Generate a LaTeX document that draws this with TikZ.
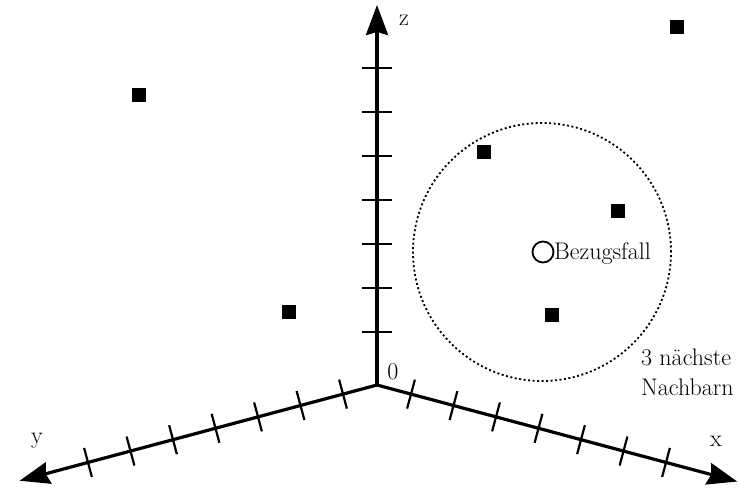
\documentclass[tikz,border=0pt]{standalone}
\usetikzlibrary{arrows.meta,calc}
\begin{document}
\begin{tikzpicture}[x=1pt,y=-1pt,
  axis/.style={line width=3.2pt,-{Stealth[length=30pt,width=22pt,inset=3pt]}},
  tickmark/.style={line width=2.2pt},
  sample/.style={fill=black,minimum size=14pt,inner sep=0pt,draw=none,rectangle},
  lbl/.style={font=\fontsize{24}{30}\selectfont,inner sep=0pt}]
\useasboundingbox (0,0) rectangle (738,489);
\coordinate (O) at (377,385);
\coordinate (Z) at (377,5);
\coordinate (X) at ($(O)+(15:373)$);
\coordinate (Y) at ($(O)+(165:370)$);
\draw[axis] (O) -- (Z);
\draw[axis] (O) -- (X);
\draw[axis] (O) -- (Y);
\foreach \k in {0,...,6}{
  \pgfmathsetmacro\r{35.2+44*\k}
  \pgfmathsetmacro\h{53+44*\k}
  \draw[tickmark] ($(O)+(-15,-\h)$) -- ($(O)+(15,-\h)$);
  \draw[tickmark] ($(O)+(15:\r)+(105:15)$) -- ($(O)+(15:\r)+(285:15)$);
  \draw[tickmark] ($(O)+(165:\r)+(75:15)$) -- ($(O)+(165:\r)+(255:15)$);
}
\node[lbl] (zl) at (404,20) {z};
\node[lbl] (ol) at (393,372) {0};
\node[lbl] (xl) at (716,441) {x};
\node[lbl] (yl) at (37,441) {y};
\node[circle,draw,dash pattern=on 2pt off 2.5pt,line width=1.8pt,minimum size=258pt,inner sep=0pt] (N) at (542,252) {};
\node[circle,draw,line width=1.8pt,minimum size=21pt,inner sep=0pt] (B) at (543,252) {};
\node[lbl,anchor=base west] (Bl) at ($(B.east)+(-0.5,7)$) {Bezugsfall};
\node[lbl,anchor=north west,align=left] (NN) at (641,349) {3 nächste\\Nachbarn};
\node[sample] (s1) at (139,95) {};
\node[sample] (s2) at (677,27) {};
\node[sample] (s3) at (484,152) {};
\node[sample] (s4) at (618,211) {};
\node[sample] (s5) at (289,312) {};
\node[sample] (s6) at (552,315) {};
\end{tikzpicture}
\end{document}
